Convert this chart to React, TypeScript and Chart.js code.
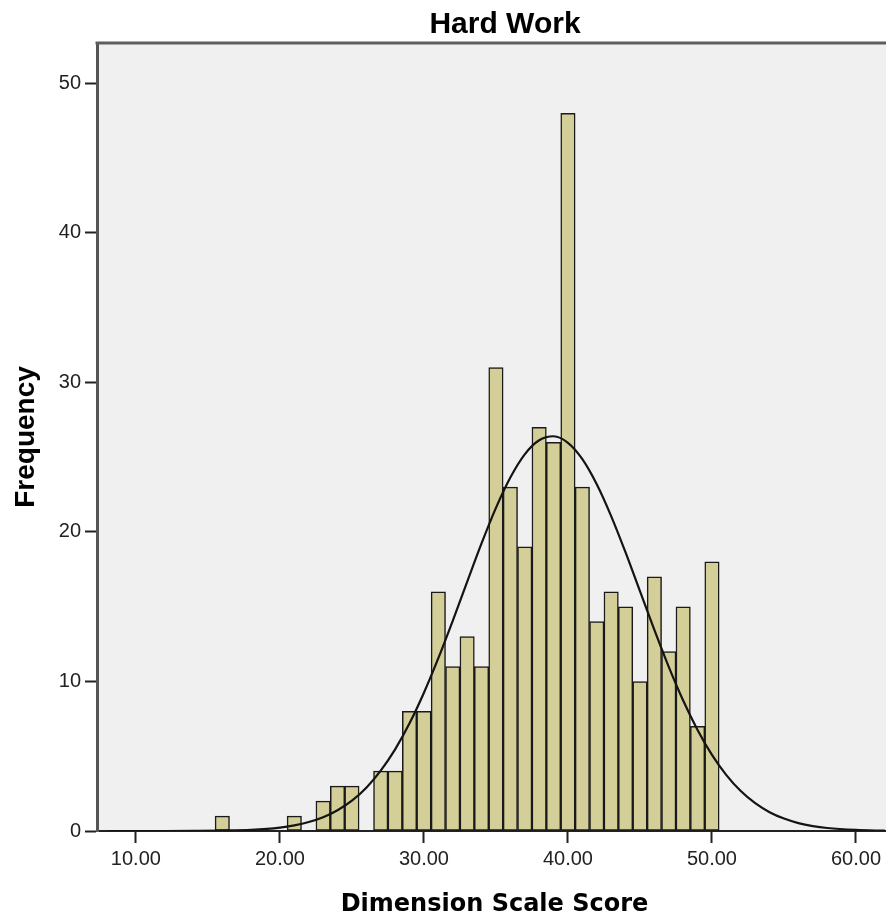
import React, { useEffect, useRef } from 'react';
import { Chart, registerables } from 'chart.js';

Chart.register(...registerables);

const chartTitle = 'Hard Work';
const xAxisTitle = 'Dimension Scale Score';
const yAxisTitle = 'Frequency';

// histogram bins (bin centre) and counts
const scoreBins = [16, 21, 23, 24, 25, 27, 28, 29, 30, 31, 32, 33, 34, 35, 36, 37, 38, 39, 40, 41, 42, 43, 44, 45, 46, 47, 48, 49, 50];
const frequencies = [1, 1, 2, 3, 3, 4, 4, 8, 8, 16, 11, 13, 11, 31, 23, 19, 27, 26, 48, 23, 14, 16, 15, 10, 17, 12, 15, 7, 18];

// normal curve
const curveX = [8, 10, 12, 14, 16, 18, 20, 21, 22, 23, 24, 25, 26, 27, 28, 29, 30, 31, 32, 33, 34, 35, 36, 37, 38, 39, 40, 41, 42, 43, 44, 45, 46, 47, 48, 49, 50, 51, 52, 53, 54, 55, 56, 57, 58, 60, 62];
const curveY = [0, 0, 0, 0.01, 0.03, 0.08, 0.23, 0.38, 0.6, 0.92, 1.39, 2.03, 2.9, 4.04, 5.46, 7.2, 9.25, 11.56, 14.06, 16.66, 19.23, 21.61, 23.64, 25.19, 26.13, 26.4, 25.96, 24.87, 23.19, 21.06, 18.63, 16.04, 13.45, 10.98, 8.73, 6.76, 5.09, 3.74, 2.67, 1.86, 1.26, 0.83, 0.53, 0.33, 0.2, 0.07, 0.02];

const xTickValues = [10, 20, 30, 40, 50, 60];
const yTickValues = [0, 10, 20, 30, 40, 50];
const xMin = 7.3;
const xMax = 62.5;
const yMin = 0;
const yMax = 52.7;

const framePlugin = {
  id: 'spssFrame',
  beforeDraw(chart: any) {
    const { ctx, chartArea: a } = chart;
    ctx.save();
    ctx.fillStyle = '#f0f0f0';
    ctx.fillRect(a.left, a.top, a.right - a.left, a.bottom - a.top);
    ctx.restore();
  },
  afterDraw(chart: any) {
    const { ctx, chartArea: a } = chart;
    ctx.save();
    ctx.strokeStyle = '#5e5e5e';
    ctx.lineWidth = 3;
    ctx.beginPath();
    ctx.moveTo(a.left - 1.5, a.top);
    ctx.lineTo(a.right + 20, a.top);
    ctx.stroke();
    ctx.font = 'bold 30px "Liberation Sans", Arial, sans-serif';
    ctx.fillStyle = '#000';
    ctx.textAlign = 'center';
    ctx.textBaseline = 'alphabetic';
    ctx.fillText(chartTitle, 505, 33);
    ctx.restore();
  },
};

export default function App() {
  const canvasRef = useRef<HTMLCanvasElement | null>(null);

  useEffect(() => {
    if (!canvasRef.current) return;
    const chart = new Chart(canvasRef.current, {
      type: 'bar',
      data: {
        datasets: [
          {
            type: 'line',
            data: curveX.map((x, i) => ({ x, y: curveY[i] })),
            borderColor: '#141414',
            borderWidth: 2.2,
            pointRadius: 0,
            fill: false,
            cubicInterpolationMode: 'monotone',
            order: 1,
          } as any,
          {
            type: 'bar',
            data: scoreBins.map((x, i) => ({ x, y: frequencies[i] })),
            backgroundColor: '#d4cf98',
            borderColor: '#1a1a1a',
            borderWidth: 1.5,
            borderSkipped: false,
            barPercentage: 1,
            categoryPercentage: 1,
            order: 2,
          } as any,
        ],
      },
      options: {
        animation: false,
        responsive: true,
        maintainAspectRatio: false,
        devicePixelRatio: 1,
        layout: { padding: { top: 43, right: 8, left: 0, bottom: 0 } },
        plugins: {
          legend: { display: false },
          tooltip: { enabled: false },
          title: { display: false },
        },
        scales: {
          x: {
            type: 'linear',
            min: xMin,
            max: xMax,
            offset: false,
            afterBuildTicks: (s: any) => {
              s.ticks = xTickValues.map((v) => ({ value: v }));
            },
            afterFit: (s: any) => {
              s.height = 86;
            },
            ticks: {
              callback: (v: any) => Number(v).toFixed(2),
              font: { family: '"Liberation Sans", Arial, sans-serif', size: 20 },
              color: '#222',
              padding: 4,
              maxRotation: 0,
              autoSkip: false,
            },
            grid: {
              display: true,
              offset: false,
              drawOnChartArea: false,
              drawTicks: true,
              tickLength: 12,
              tickWidth: 2,
              tickColor: '#222',
            },
            border: { display: true, color: '#222', width: 2 },
            title: {
              display: true,
              text: xAxisTitle,
              color: '#000',
              font: { family: '"DejaVu Sans", Verdana, sans-serif', size: 24, weight: 'bold', lineHeight: 1 },
              padding: { top: 0, bottom: 0 },
            },
          },
          y: {
            type: 'linear',
            min: yMin,
            max: yMax,
            afterBuildTicks: (s: any) => {
              s.ticks = yTickValues.map((v) => ({ value: v }));
            },
            afterFit: (s: any) => {
              s.width = 97;
            },
            ticks: {
              font: { family: '"Liberation Sans", Arial, sans-serif', size: 20 },
              color: '#222',
              padding: 4,
            },
            grid: {
              display: true,
              offset: false,
              drawOnChartArea: false,
              drawTicks: true,
              tickLength: 12,
              tickWidth: 2,
              tickColor: '#222',
            },
            border: { display: true, color: '#555', width: 3 },
            title: {
              display: true,
              text: yAxisTitle,
              color: '#000',
              font: { family: '"Liberation Sans", Arial, sans-serif', size: 28, weight: 'bold', lineHeight: 1.2 },
              padding: { top: 9, bottom: 0 },
            },
          },
        },
      },
      plugins: [framePlugin],
    } as any);
    return () => chart.destroy();
  }, []);

  return (
    <div style={{ position: 'absolute', left: 0, top: 0, width: 886, height: 917, overflow: 'hidden' }}>
      <div style={{ position: 'relative', width: 900, height: 917 }}>
        <canvas ref={canvasRef} />
      </div>
    </div>
  );
}
